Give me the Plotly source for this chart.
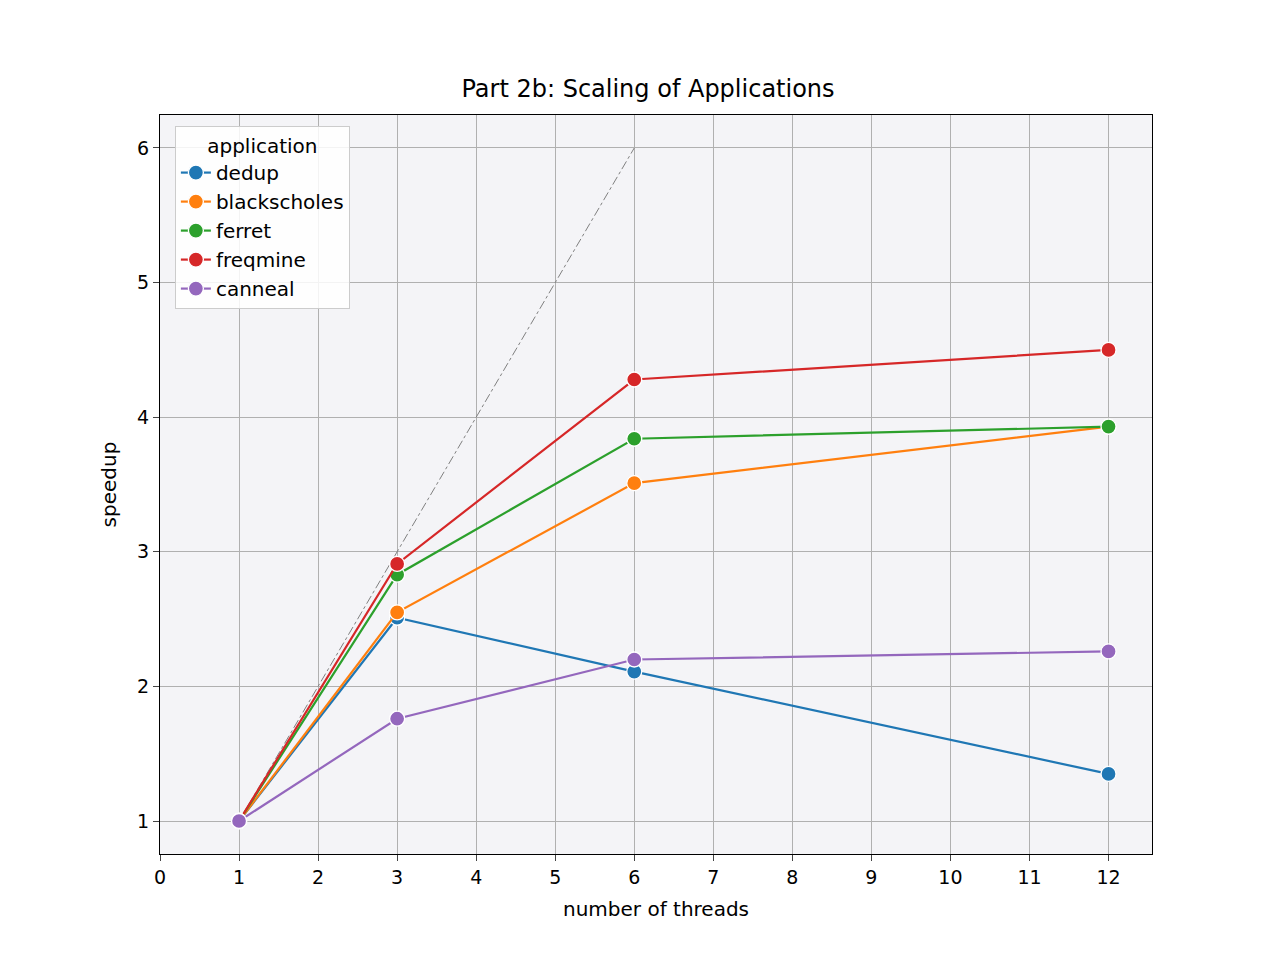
import plotly.graph_objects as go

threads = [1, 3, 6, 12]
apps = ["dedup", "blackscholes", "ferret", "freqmine", "canneal"]
colors = ["#1f77b4", "#ff7f0e", "#2ca02c", "#d62728", "#9467bd"]
speedup = {
    "dedup": [1, 2.51, 2.11, 1.35],
    "blackscholes": [1, 2.55, 3.51, 3.93],
    "ferret": [1, 2.83, 3.84, 3.93],
    "freqmine": [1, 2.91, 4.28, 4.50],
    "canneal": [1, 1.76, 2.20, 2.26],
}
ideal = [1, 6]

fig = go.Figure()
fig.add_trace(go.Scatter(x=ideal, y=ideal, mode="lines", showlegend=False,
                         line=dict(color="gray", width=1, dash="dashdot")))
for a, c in zip(apps, colors):
    fig.add_trace(go.Scatter(x=threads, y=speedup[a], name=a, mode="lines+markers",
                             line=dict(color=c, width=2.2),
                             marker=dict(size=15, color=c, line=dict(color="white", width=1.3))))

ax = dict(showgrid=True, gridcolor="#b0b0b0", gridwidth=1.2, showline=True, linecolor="black",
          mirror=True, ticks="outside", ticklen=6, zeroline=False,
          tickfont=dict(size=19, color="black"))
fig.update_layout(
    width=1280, height=960, paper_bgcolor="white", plot_bgcolor="#f4f4f7",
    font=dict(family="DejaVu Sans", size=19, color="black"),
    title=dict(text="Part 2b: Scaling of Applications", x=0.5, xanchor="center", y=0.925,
               font=dict(size=24)),
    margin=dict(l=152, r=136, t=107, b=114),
    xaxis=dict(ax, range=[0, 12.55], dtick=1, title=dict(text="number of threads", font=dict(size=20))),
    yaxis=dict(ax, range=[0.755, 6.245], dtick=1, title=dict(text="speedup", font=dict(size=20))),
    legend=dict(x=0.015, y=0.985, xanchor="left", yanchor="top", bgcolor="rgba(255,255,255,0.85)",
                bordercolor="#cccccc", borderwidth=1, font=dict(size=20), tracegroupgap=8,
                title=dict(text="application", side="top center", font=dict(size=20))),
)
fig.write_html("out.html")
